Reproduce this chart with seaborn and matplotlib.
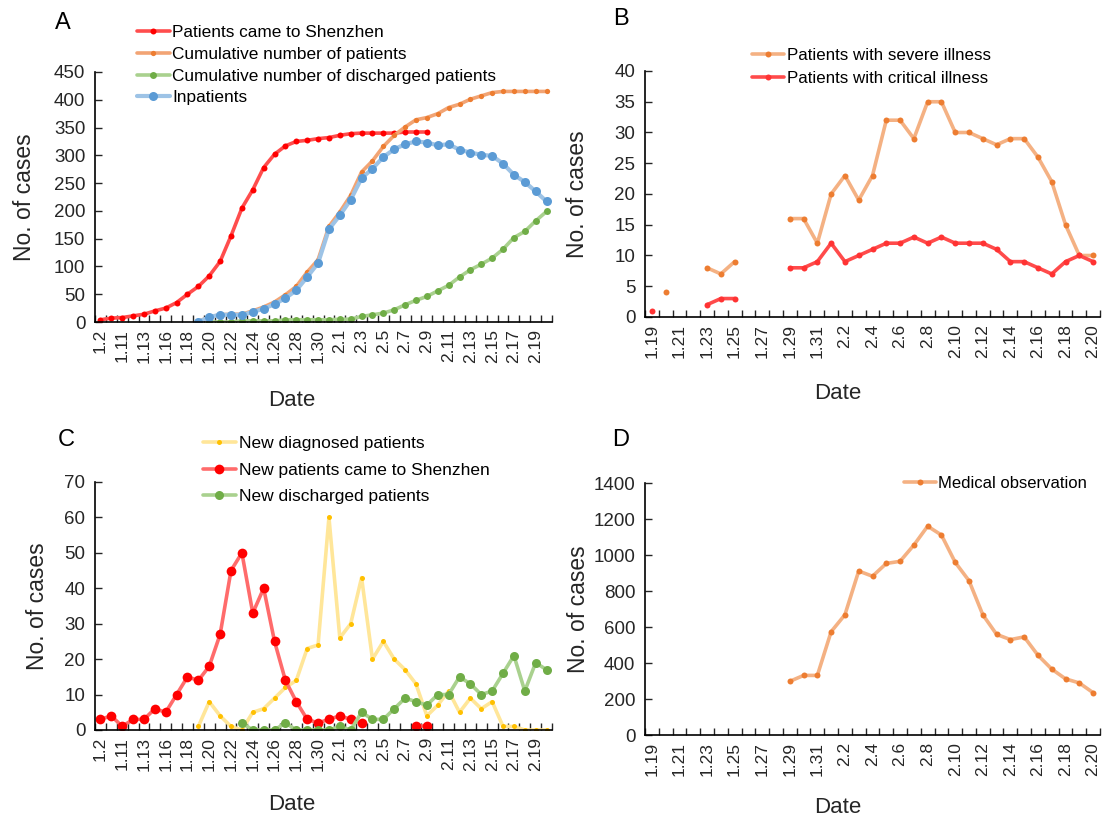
import numpy as np
import pandas as pd
import matplotlib
matplotlib.use("Agg")
import matplotlib.pyplot as plt
import seaborn as sns

# dates on the x axis
dates_ac = ["1.2", "1.10", "1.11", "1.12", "1.13", "1.14", "1.16", "1.17", "1.18"] + \
           ["1.%d" % d for d in range(19, 32)] + ["2.%d" % d for d in range(1, 21)]
dates_bd = ["1.%d" % d for d in range(19, 32)] + ["2.%d" % d for d in range(1, 21)]

# panel A (cumulative)
came_sz = [4, 7, 8, 11, 14, 20, 25, 35, 50, 64, 83, 109, 155, 205, 238, 278, 302, 317,
           325, 327, 330, 332, 336, 339, 340, 340, 340, 340, 342, 342, 342] + [None] * 11
cum_patients = [None] * 9 + [1, 9, 13, 14, 14, 20, 27, 36, 49, 64, 90, 112, 172, 198, 228,
                             270, 290, 316, 336, 351, 364, 368, 375, 386, 392, 401, 407,
                             413, 415, 415, 415, 415, 415]
cum_discharged = [None] * 10 + [0, 0, 0, 2, 2, 2, 2, 4, 4, 4, 4, 4, 5, 5, 10, 13, 16, 22,
                                31, 39, 46, 56, 66, 81, 94, 104, 115, 131, 152, 163, 182, 199]
inpatients = [None] * 9 + [0, 9, 13, 13, 13, 18, 24, 32, 43, 57, 81, 106, 167, 192, 220,
                           259, 276, 297, 311, 320, 325, 323, 318, 320, 310, 305, 301, 299,
                           285, 265, 252, 235, 217]

# panel B
severe = [None, 4, None, None, 8, 7, 9, None, None, None, 16, 16, 12, 20, 23, 19, 23, 32,
          32, 29, 35, 35, 30, 30, 29, 28, 29, 29, 26, 22, 15, 10, 10]
critical = [1, None, None, None, 2, 3, 3, None, None, None, 8, 8, 9, 12, 9, 10, 11, 12, 12,
            13, 12, 13, 12, 12, 12, 11, 9, 9, 8, 7, 9, 10, 9]

# panel C (daily)
new_diag = [None] * 9 + [1, 8, 4, 1, 0, 5, 6, 9, 12, 14, 23, 24, 60, 26, 30, 43, 20, 25, 20,
                         17, 13, 4, 7, 11, 5, 9, 6, 8, 1, 1, 0, 0, 0]
new_came = [3, 4, 1, 3, 3, 6, 5, 10, 15, 14, 18, 27, 45, 50, 33, 40, 25, 14, 8, 3, 2, 3, 4,
            3, 2, None, None, None, None, 1, 1] + [None] * 11
new_disch = [None] * 13 + [2, 0, 0, 0, 2, 0, 0, 0, 0, 1, 0, 5, 3, 3, 6, 9, 8, 7, 10, 10, 15,
                           13, 10, 11, 16, 21, 11, 19, 17]

# panel D
med_obs = [None] * 10 + [298, 331, 331, 574, 668, 911, 882, 953, 965, 1055, 1160, 1111, 959,
                         857, 668, 559, 530, 545, 443, 366, 312, 289, 235]

sns.set_style("ticks")
plt.rcParams["font.family"] = ["Liberation Sans", "DejaVu Sans"]
plt.rcParams["text.color"] = "black"


def draw(ax, values, name, line_c, mark_c, ms, lw=2.6):
    s = pd.Series(values, dtype=float)
    df = pd.DataFrame({"pos": np.arange(len(s)), "val": s})
    df["seg"] = df["val"].isna().cumsum()
    df = df.dropna()
    first = True
    for _, part in df.groupby("seg"):
        sns.lineplot(data=part, x="pos", y="val", ax=ax, color=line_c, lw=lw,
                     marker="o", ms=ms, markerfacecolor=mark_c, markeredgecolor=mark_c,
                     markeredgewidth=0, label=name if first else "_nolegend_")
        first = False


def style_axis(ax, dates, ymax, ystep, ylab_x, xlab_xy):
    n = len(dates)
    ax.set_xlim(-0.5, n - 0.5)
    ax.set_ylim(0, ymax)
    ax.set_yticks(np.arange(0, ymax + 1, ystep))
    ax.set_xticks(np.arange(0, n, 2))
    ax.set_xticklabels(dates[::2], rotation=90)
    ax.set_xticks(np.arange(-0.5, n, 1), minor=True)
    ax.tick_params(axis="x", which="major", length=0, pad=5, labelsize=12.5)
    ax.tick_params(axis="x", which="minor", direction="in", length=5, width=1)
    ax.tick_params(axis="y", direction="in", length=5, width=1, pad=7, labelsize=13.5)
    for sp in ["top", "right"]:
        ax.spines[sp].set_visible(False)
    for sp in ["left", "bottom"]:
        ax.spines[sp].set_color("black")
        ax.spines[sp].set_linewidth(1.2)
    ax.set_ylabel("No. of cases", fontsize=16.5)
    ax.set_xlabel("Date", fontsize=16)
    ax.yaxis.set_label_coords(ylab_x, 0.5)
    ax.xaxis.set_label_coords(*xlab_xy)
    ax.xaxis.label.set_va("top")


W, H = 1108, 816
fig = plt.figure(figsize=(W / 100, H / 100), dpi=100)


def box(l, r, t, b):
    return [l / W, (H - b) / H, (r - l) / W, (b - t) / H]


axA = fig.add_axes(box(95, 552, 72, 322))
axB = fig.add_axes(box(645, 1100, 71, 317))
axC = fig.add_axes(box(95, 552, 482, 730))
axD = fig.add_axes(box(645, 1100, 483, 735))

# A
draw(axA, came_sz, "Patients came to Shenzhen", "#FF4D4D", "#FF0000", 4.3)
draw(axA, cum_patients, "Cumulative number of patients", "#F2A474", "#ED7D31", 3.8)
draw(axA, cum_discharged, "Cumulative number of discharged patients", "#A9D18E", "#70AD47", 5)
draw(axA, inpatients, "Inpatients", "#9DC3E6", "#5B9BD5", 6.5, lw=3)
style_axis(axA, dates_ac, 450, 50, -0.13, (0.43, -0.27))

# B
draw(axB, severe, "Patients with severe illness", "#F4B183", "#ED7D31", 4.3)
draw(axB, critical, "Patients with critical illness", "#FF4B4B", "#FF3333", 4.3)
style_axis(axB, dates_bd, 40, 5, -0.123, (0.424, -0.27))

# C
draw(axC, new_diag, "New diagnosed patients", "#FFE699", "#FFC000", 3.6)
draw(axC, new_came, "New patients came to Shenzhen", "#FF6B6B", "#FF0000", 7)
draw(axC, new_disch, "New discharged patients", "#A9D18E", "#70AD47", 6.5)
style_axis(axC, dates_ac, 70, 10, -0.10, (0.43, -0.26))

# D
draw(axD, med_obs, "Medical observation", "#F4B183", "#ED7D31", 4.3)
style_axis(axD, dates_bd, 1400, 200, -0.12, (0.424, -0.245))

legend_spots = [(axA, 137, 25, 0.39, 12.4), (axB, 752, 48, 0.47, 12.2),
                (axC, 203, 436, 0.65, 12.5), (axD, 904, 476, 0.15, 12)]
for ax, lx, ty, sp, fs in legend_spots:
    h, l = ax.get_legend_handles_labels()
    ax.legend(h, l, loc="upper left", bbox_to_anchor=(lx / W, 1 - ty / H),
              bbox_transform=fig.transFigure, frameon=False, fontsize=fs,
              handlelength=1.9, handletextpad=0.15, labelspacing=sp,
              borderpad=0, borderaxespad=0)

for letter, x, y in [("A", 63, 23), ("B", 621, 19), ("C", 66, 440), ("D", 621, 440)]:
    fig.text(x / W, 1 - y / H, letter, fontsize=17, ha="center", va="center")

fig.savefig("out.png", dpi=100)
